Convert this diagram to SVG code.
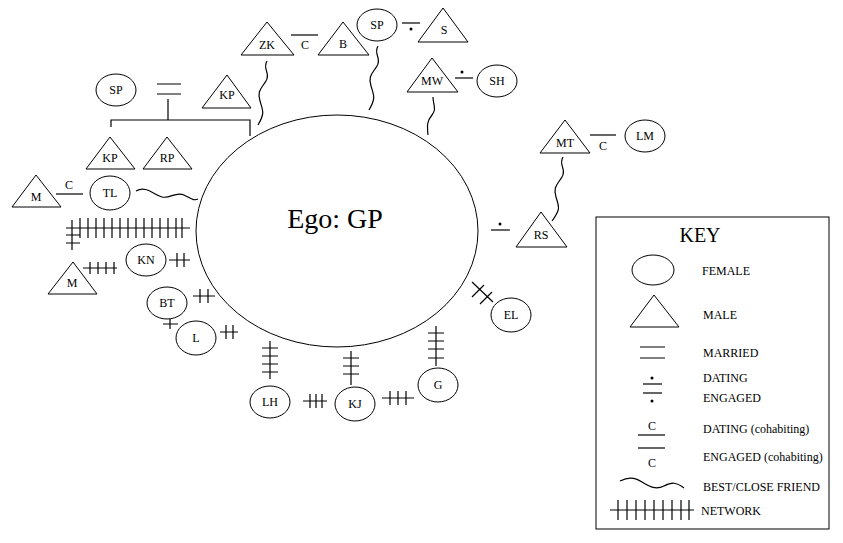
<svg xmlns="http://www.w3.org/2000/svg" width="843" height="543" viewBox="0 0 843 543">
<style>
.s{fill:#fff;stroke:#000;stroke-width:1}
.l{fill:none;stroke:#000;stroke-width:1.2}
.t{font-family:"Liberation Serif",serif;font-size:12px;text-anchor:middle;fill:#000}
.k{font-family:"Liberation Serif",serif;font-size:12px;fill:#000}
</style>
<defs>
<path id="tick" d="M0,-10V10" class="l"/>
</defs>
<rect width="843" height="543" fill="#fff"/>
<g id="ego"><ellipse class="s" cx="337" cy="231" rx="141" ry="116"/><text x="335" y="228" class="t" style="font-size:28px">Ego: GP</text></g>
<g id="connectors">
<path class="l" d="M291,35H318"/><text x="305" y="49" class="t">C</text>
<path class="l" d="M402,23H420"/><circle cx="411" cy="29" r="1.5"/>
<path class="l" d="M455,78H473"/><circle cx="462" cy="72" r="1.5"/>
<path class="l" d="M590,135H616"/><text x="603" y="150" class="t">C</text>
<path class="l" d="M491,230H510"/><circle cx="500" cy="224" r="1.5"/>
<path class="l" d="M56,194H83"/><text x="69" y="189" class="t">C</text>
<path class="l" d="M157,84H181M157,94H181M168,99V120M111,127V120H250V136"/>
<path class="l" d="M267,61c-5,8 4,12 -1,20s-9,10 -6,20s5,12 -2,24"/>
<path class="l" d="M378,46c-5,8 4,12 -1,20s-9,10 -6,20s5,12 -2,24"/>
<path class="l" d="M433,97c0,8 4,12 -1,18s-5,10 -4,20"/>
<path class="l" d="M563,157c-5,8 4,12 -1,20s-9,10 -6,20s5,12 -4,24"/>
<path class="l" d="M136,191c10,-6 18,4 26,6s14,-6 22,-2s10,6 14,4"/>
<path class="l" d="M66,228H190M72,220V250M66,235H80M66,243H80"/>
<g transform="translate(0,228)"><use href="#tick" x="80"/><use href="#tick" x="88"/><use href="#tick" x="96"/><use href="#tick" x="104"/><use href="#tick" x="112"/><use href="#tick" x="120"/><use href="#tick" x="128"/><use href="#tick" x="136"/><use href="#tick" x="144"/><use href="#tick" x="152"/><use href="#tick" x="160"/><use href="#tick" x="168"/><use href="#tick" x="176"/><use href="#tick" x="182"/></g>
<path class="l" d="M83,268H117M90,262V274M98,262V274M106,262V274M114,262V274"/>
<path class="l" d="M169,260H190M177,253V267M184,253V267"/>
<path class="l" d="M193,296H215M200,289V303M208,289V303"/>
<path class="l" d="M220,332H238M226,325V339M233,325V339"/>
<path class="l" d="M163,324H178M170,319V329"/>
<path class="l" d="M270,341V379M262,348H278M262,356H278M262,364H278M262,372H278"/>
<path class="l" d="M303,401H327M310,394V408M316,394V408M322,394V408"/>
<path class="l" d="M351,351V385M343,358H359M343,366H359M343,374H359"/>
<path class="l" d="M382,398H414M390,391V405M398,391V405M406,391V405"/>
<path class="l" d="M436,326V366M428,333H444M428,341H444M428,349H444M428,358H444"/>
<path class="l" d="M472,282L493,302M472,297L484,285M480,304L492,292"/>
</g>
<g id="ZK"><path class="s" d="M267,22L294,55H241Z"/><text x="267" y="49" class="t">ZK</text></g>
<g id="B"><path class="s" d="M343,22L369,55H318Z"/><text x="343" y="48" class="t">B</text></g>
<g id="SP1"><ellipse class="s" cx="377" cy="25" rx="20" ry="16"/><text x="377" y="29" class="t">SP</text></g>
<g id="S"><path class="s" d="M443,8L468,42H418Z"/><text x="444" y="34" class="t">S</text></g>
<g id="MW"><path class="s" d="M432,58L458,92H407Z"/><text x="432" y="85" class="t">MW</text></g>
<g id="SH"><ellipse class="s" cx="497" cy="81" rx="20" ry="16"/><text x="497" y="85" class="t">SH</text></g>
<g id="MT"><path class="s" d="M565,120L590,153H540Z"/><text x="565" y="147" class="t">MT</text></g>
<g id="LM"><ellipse class="s" cx="645" cy="136" rx="20" ry="16"/><text x="645" y="140" class="t">LM</text></g>
<g id="RS"><path class="s" d="M541,212L567,247H516Z"/><text x="541" y="239" class="t">RS</text></g>
<g id="KP1"><path class="s" d="M227,75L251,108H202Z"/><text x="227" y="99" class="t">KP</text></g>
<g id="SP2"><ellipse class="s" cx="116" cy="90" rx="20" ry="16"/><text x="116" y="94" class="t">SP</text></g>
<g id="KP2"><path class="s" d="M110,137L135,169H86Z"/><text x="110" y="162" class="t">KP</text></g>
<g id="RP"><path class="s" d="M167,137L192,169H143Z"/><text x="167" y="162" class="t">RP</text></g>
<g id="M1"><path class="s" d="M36,175L61,207H12Z"/><text x="36" y="201" class="t">M</text></g>
<g id="TL"><ellipse class="s" cx="110" cy="193" rx="20" ry="17"/><text x="110" y="197" class="t">TL</text></g>
<g id="M2"><path class="s" d="M73,262L97,294H48Z"/><text x="72" y="287" class="t">M</text></g>
<g id="KN"><ellipse class="s" cx="146" cy="260" rx="20" ry="16"/><text x="146" y="264" class="t">KN</text></g>
<g id="BT"><ellipse class="s" cx="167" cy="303" rx="20" ry="16"/><text x="167" y="307" class="t">BT</text></g>
<g id="L"><ellipse class="s" cx="196" cy="338" rx="20" ry="17"/><text x="196" y="342" class="t">L</text></g>
<g id="LH"><ellipse class="s" cx="270" cy="402" rx="20" ry="16"/><text x="270" y="406" class="t">LH</text></g>
<g id="KJ"><ellipse class="s" cx="355" cy="404" rx="20" ry="17"/><text x="355" y="408" class="t">KJ</text></g>
<g id="G"><ellipse class="s" cx="438" cy="385" rx="20" ry="17"/><text x="438" y="389" class="t">G</text></g>
<g id="EL"><ellipse class="s" cx="511" cy="315" rx="20" ry="17"/><text x="511" y="319" class="t">EL</text></g>
<g id="key">
<rect class="s" x="596" y="217" width="233" height="312"/>
<text x="700" y="242" class="t" style="font-size:20px">KEY</text>
<ellipse class="s" cx="653" cy="270" rx="21" ry="15"/><text x="702" y="275" class="k">FEMALE</text>
<path class="s" d="M654,295L679,327H630Z"/><text x="703" y="319" class="k">MALE</text>
<path class="l" d="M640,347H665M640,358H665"/><text x="703" y="357" class="k">MARRIED</text>
<path class="l" d="M643,384H662"/><circle cx="652" cy="378" r="1.5"/><text x="703" y="382" class="k">DATING</text>
<path class="l" d="M643,393H662"/><circle cx="652" cy="401" r="1.5"/><text x="703" y="402" class="k">ENGAGED</text>
<text x="652" y="430" class="t">C</text><path class="l" d="M638,435H665"/><text x="703" y="433" class="k">DATING (cohabiting)</text>
<path class="l" d="M638,448H665"/><text x="652" y="467" class="t">C</text><text x="703" y="461" class="k">ENGAGED (cohabiting)</text>
<path class="l" d="M620,481c8,-4 14,-4 22,1s14,8 22,4s12,-4 20,2"/><text x="703" y="491" class="k">BEST/CLOSE FRIEND</text>
<path class="l" d="M610,510H694"/>
<g transform="translate(0,510)"><use href="#tick" x="618"/><use href="#tick" x="627"/><use href="#tick" x="636"/><use href="#tick" x="645"/><use href="#tick" x="654"/><use href="#tick" x="663"/><use href="#tick" x="672"/><use href="#tick" x="681"/><use href="#tick" x="689"/></g>
<text x="701" y="515" class="k">NETWORK</text>
</g>
</svg>
